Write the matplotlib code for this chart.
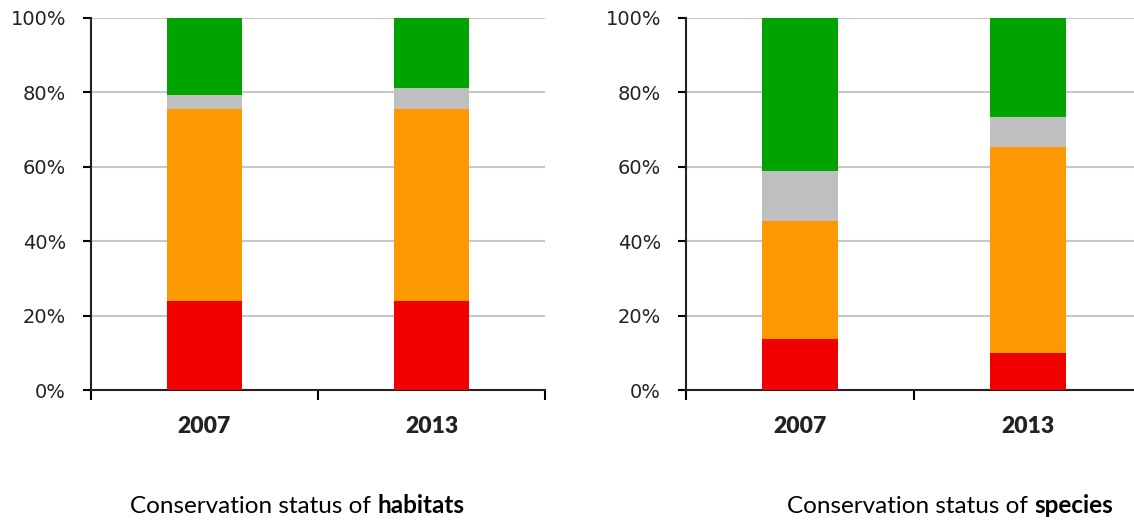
import numpy as np
import matplotlib.pyplot as plt
from matplotlib.ticker import PercentFormatter

# anos e shares (%) de cada classe de estado de conservação
years = ['2007', '2013']

hab_red = [23.8, 23.8]
hab_orange = [51.8, 51.8]
hab_grey = [3.6, 5.7]
hab_green = [20.8, 18.7]

spe_red = [13.6, 9.9]
spe_orange = [31.9, 55.5]
spe_grey = [13.3, 8.0]
spe_green = [41.2, 26.6]

colors = ['#f20000', '#fd9900', '#bfbfbf', '#00a300']


def stacked_panel(ax, series):
    x = np.arange(len(years))
    bottom = np.zeros(len(years))
    for vals, c in zip(series, colors):
        ax.bar(x, vals, 0.33, bottom=bottom, color=c, linewidth=0, zorder=3)
        bottom += np.array(vals)
    ax.set_xlim(-0.5, 1.5)
    ax.set_ylim(0, 100)
    ax.set_yticks(np.arange(0, 101, 20))
    ax.yaxis.set_major_formatter(PercentFormatter(decimals=0))
    ax.yaxis.grid(True, color='#c8c8c8', linewidth=1.5, zorder=0)
    ax.set_xticks([-0.5, 0.5, 1.5])
    ax.set_xticklabels([])
    ax.set_xticks(x, minor=True)
    ax.set_xticklabels(years, minor=True, fontsize=16.5, fontweight='heavy',
                       family=['Lato', 'DejaVu Sans'], color='#222222')
    ax.tick_params(axis='x', which='major', length=7, width=1.5, direction='out')
    ax.tick_params(axis='x', which='minor', length=0, pad=19)
    ax.tick_params(axis='y', length=6, width=1.5, direction='out',
                   labelsize=14, labelcolor='#222222', pad=12)
    for s in ['top', 'right']:
        ax.spines[s].set_visible(False)
    for s in ['left', 'bottom']:
        ax.spines[s].set_linewidth(1.5)
        ax.spines[s].set_color('#222222')
    ax.set_axisbelow(True)


def two_part_title(fig, xc, y, normal, bold):
    # texto normal + texto em negrito, centrados juntos em xc
    r = fig.canvas.get_renderer()
    t1 = fig.text(0, y, normal, fontsize=17.5, family=['Lato', 'DejaVu Sans'], va='baseline')
    t2 = fig.text(0, y, bold, fontsize=17.5, fontweight='bold',
                  family=['Lato', 'DejaVu Sans'], va='baseline')
    w1 = t1.get_window_extent(r).width / fig.bbox.width
    w2 = t2.get_window_extent(r).width / fig.bbox.width
    x0 = xc - (w1 + w2) / 2
    t1.set_x(x0)
    t2.set_x(x0 + w1)


fig = plt.figure(figsize=(11.34, 5.2), dpi=100)
ax1 = fig.add_axes([0.0802, 0.25, 0.4004, 0.7154])
ax2 = fig.add_axes([0.605, 0.25, 0.402, 0.7154])

stacked_panel(ax1, [hab_red, hab_orange, hab_grey, hab_green])
stacked_panel(ax2, [spe_red, spe_orange, spe_grey, spe_green])

two_part_title(fig, 297 / 1134, 1 - 513 / 520, 'Conservation status of ', 'habitats')
two_part_title(fig, 950 / 1134, 1 - 513 / 520, 'Conservation status of ', 'species')

fig.savefig('out.png', dpi=100)
